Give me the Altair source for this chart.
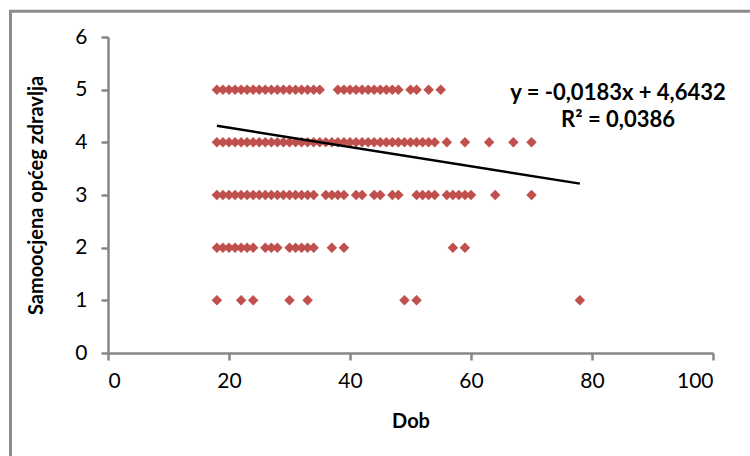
import altair as alt
import pandas as pd

# Ages (Dob) for each self-rated health level
ages_r5 = [18, 19, 20, 21, 22, 23, 24, 25, 26, 27, 28, 29, 30, 31, 32, 33, 34, 35,
           38, 39, 40, 41, 42, 43, 44, 45, 46, 47, 48, 50, 51, 53, 55]
ages_r4 = [18, 19, 20, 21, 22, 23, 24, 25, 26, 27, 28, 29, 30, 31, 32, 33, 34, 35,
           36, 37, 38, 39, 40, 41, 42, 43, 44, 45, 46, 47, 48, 49, 50, 51, 52, 53, 54,
           56, 59, 63, 67, 70]
ages_r3 = [18, 19, 20, 21, 22, 23, 24, 25, 26, 27, 28, 29, 30, 31, 32, 33, 34,
           36, 37, 38, 39, 41, 42, 44, 45, 47, 48, 51, 52, 53, 54,
           56, 57, 58, 59, 60, 64, 70]
ages_r2 = [18, 19, 20, 21, 22, 23, 24, 26, 27, 28, 30, 31, 32, 33, 34, 37, 39, 57, 59]
ages_r1 = [18, 22, 24, 30, 33, 49, 51, 78]

ratings = [5, 4, 3, 2, 1]

# Trendline end points as drawn (Excel linear trendline)
trend_x = [18, 78]
trend_y = [4.314, 3.216]

# Equation label
eq_text = ["y = -0,0183x + 4,6432", "R² = 0,0386"]
eq_x = [84.3, 84.3]
eq_y = [4.94, 4.43]

x_ticks = [0, 20, 40, 60, 80, 100]
y_ticks = [0, 1, 2, 3, 4, 5, 6]

rows = []
for r, ages in zip(ratings, [ages_r5, ages_r4, ages_r3, ages_r2, ages_r1]):
    for a in ages:
        rows.append({"Dob": a, "Ocjena": r})
df = pd.DataFrame(rows)
trend_df = pd.DataFrame({"Dob": trend_x, "Ocjena": trend_y})
eq_df = pd.DataFrame({"Dob": eq_x, "Ocjena": eq_y, "t": eq_text})

FONT = "Lato"
AX = "#868686"

xscale = alt.Scale(domain=[0, 100], nice=False, zero=False)
yscale = alt.Scale(domain=[0, 6], nice=False, zero=False)

xaxis = alt.Axis(values=x_ticks, title="Dob", titlePadding=20, labelPadding=10)
yaxis = alt.Axis(values=y_ticks, title="Samoocjena općeg zdravlja", titlePadding=28, labelPadding=14)

border = alt.Chart(alt.Data(values=[{"a": 1}])).mark_rect(
    fill="transparent", stroke="#8c8c8c", strokeWidth=3
).encode(
    x=alt.value(-97.5), x2=alt.value(800),
    y=alt.value(-25.7), y2=alt.value(600)
)

points = alt.Chart(df).mark_point(
    shape="diamond", filled=True, size=110, color="#C0504D", opacity=1
).encode(
    x=alt.X("Dob:Q", scale=xscale, axis=xaxis),
    y=alt.Y("Ocjena:Q", scale=yscale, axis=yaxis),
)

trend = alt.Chart(trend_df).mark_line(color="black", strokeWidth=2.5).encode(
    x=alt.X("Dob:Q", scale=xscale),
    y=alt.Y("Ocjena:Q", scale=yscale),
)

eq = alt.Chart(eq_df).mark_text(
    font=FONT, fontSize=22, fontWeight="bold", color="black",
    align="center", baseline="middle"
).encode(
    x=alt.X("Dob:Q", scale=xscale),
    y=alt.Y("Ocjena:Q", scale=yscale),
    text="t:N",
)

chart = alt.layer(border, points, trend, eq).properties(
    width=605, height=316,
    autosize=alt.AutoSizeParams(type="none"),
    padding={"left": 108, "top": 37, "right": 37, "bottom": 103},
    background="white",
).configure_view(stroke=None).configure_axis(
    grid=False,
    domainColor=AX, tickColor=AX, domainWidth=2.5, tickWidth=2.5, tickSize=7,
    labelFont=FONT, labelFontSize=21, labelColor="black",
    titleFont=FONT, titleFontSize=20, titleFontWeight="bold", titleColor="black",
)

chart.save("out.html", embed_options={"renderer": "svg", "actions": False})
